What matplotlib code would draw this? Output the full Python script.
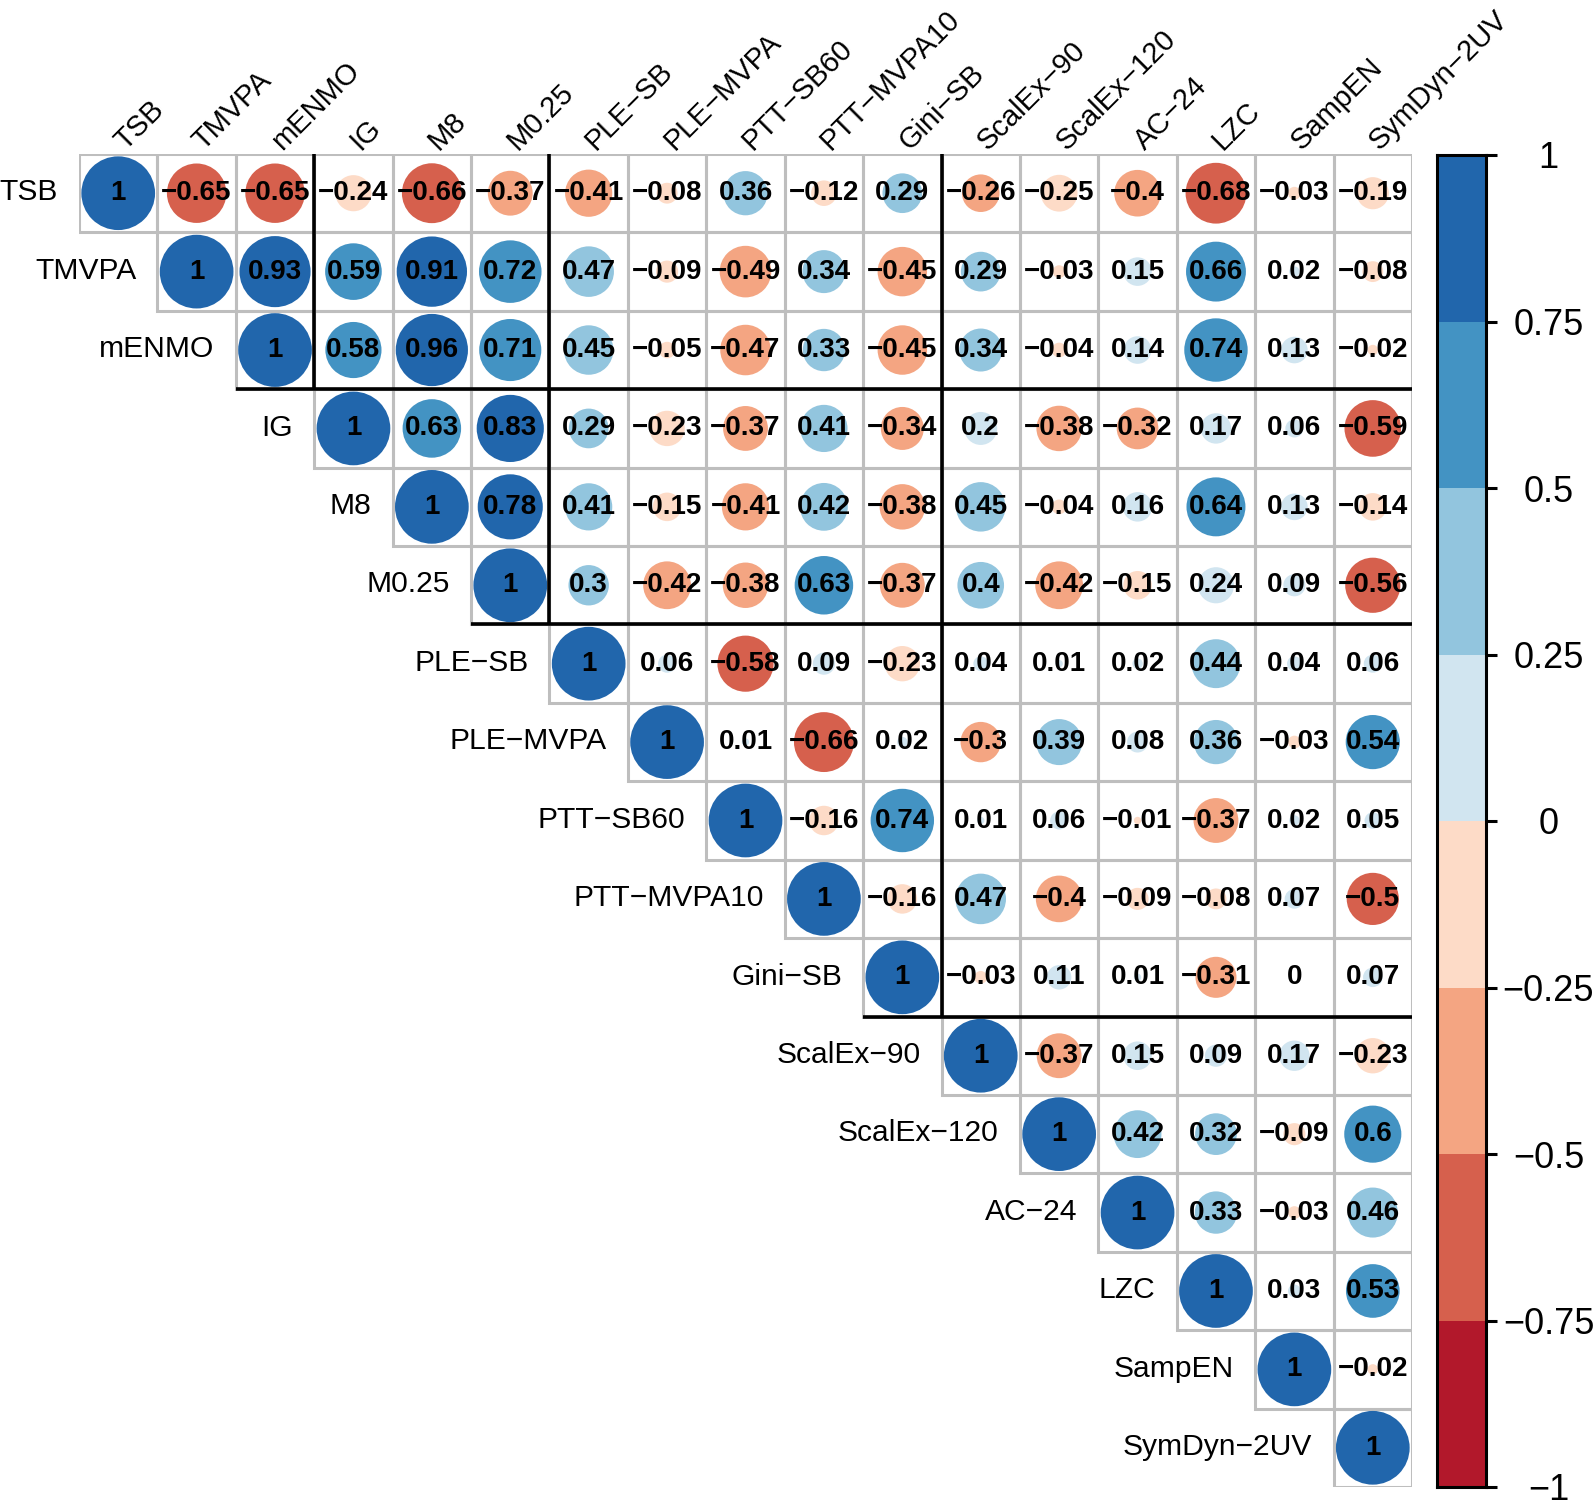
import numpy as np
import matplotlib
matplotlib.use('Agg')
import matplotlib.pyplot as plt
from matplotlib.patches import Circle, Rectangle

plt.rcParams['font.family'] = ['Liberation Sans', 'DejaVu Sans']

# ── Datos: matriz de correlación (triángulo superior, fila a fila) ──────────
labels = ['TSB', 'TMVPA', 'mENMO', 'IG', 'M8', 'M0.25', 'PLE-SB', 'PLE-MVPA',
          'PTT-SB60', 'PTT-MVPA10', 'Gini-SB', 'ScalEx-90', 'ScalEx-120',
          'AC-24', 'LZC', 'SampEN', 'SymDyn-2UV']

upper_rows = [
    [1, -0.65, -0.65, -0.24, -0.66, -0.37, -0.41, -0.08, 0.36, -0.12, 0.29, -0.26, -0.249, -0.4, -0.68, -0.03, -0.19],
    [1, 0.93, 0.59, 0.91, 0.72, 0.47, -0.09, -0.49, 0.34, -0.45, 0.29, -0.03, 0.15, 0.66, 0.02, -0.08],
    [1, 0.58, 0.96, 0.71, 0.45, -0.05, -0.47, 0.33, -0.45, 0.34, -0.04, 0.14, 0.74, 0.13, -0.02],
    [1, 0.63, 0.83, 0.29, -0.23, -0.37, 0.41, -0.34, 0.2, -0.38, -0.32, 0.17, 0.06, -0.59],
    [1, 0.78, 0.41, -0.15, -0.41, 0.42, -0.38, 0.45, -0.04, 0.16, 0.64, 0.13, -0.14],
    [1, 0.3, -0.42, -0.38, 0.63, -0.37, 0.4, -0.42, -0.15, 0.24, 0.09, -0.56],
    [1, 0.06, -0.58, 0.09, -0.23, 0.04, 0.01, 0.02, 0.44, 0.04, 0.06],
    [1, 0.01, -0.66, 0.02, -0.3, 0.39, 0.08, 0.36, -0.03, 0.54],
    [1, -0.16, 0.74, 0.01, 0.06, -0.01, -0.37, 0.02, 0.05],
    [1, -0.16, 0.47, -0.4, -0.09, -0.08, 0.07, -0.501],
    [1, -0.03, 0.11, 0.01, -0.31, 0, 0.07],
    [1, -0.37, 0.15, 0.09, 0.17, -0.23],
    [1, 0.42, 0.32, -0.09, 0.6],
    [1, 0.33, -0.03, 0.46],
    [1, 0.03, 0.53],
    [1, -0.02],
    [1],
]

group_sizes = [3, 3, 5, 6]
palette = ['#B2182B', '#D6604D', '#F4A582', '#FDDBC7',
           '#D1E5F0', '#92C5DE', '#4393C3', '#2166AC']
cbar_ticks = [1, 0.75, 0.5, 0.25, 0, -0.25, -0.5, -0.75, -1]

n = len(labels)
corr = np.full((n, n), np.nan)
for i, row in enumerate(upper_rows):
    corr[i, i:] = row


def fmt(v):
    s = f'{round(v, 2):g}'
    return s.replace('-', '\u2212')


def colour(v):
    k = int(np.ceil((v + 1) * len(palette) / 2)) - 1
    return palette[min(max(k, 0), len(palette) - 1)]


# ── Figura ──────────────────────────────────────────────────────────────────
W, H = 1594, 1501
fig = plt.figure(figsize=(W / 100, H / 100), dpi=100)
ax = fig.add_axes([79 / W, (H - 1487) / H, 1333 / W, 1333 / H])
ax.set_xlim(-0.5, n - 0.5)
ax.set_ylim(n - 0.5, -0.5)
ax.axis('off')

for i in range(n):
    for j in range(i, n):
        v = corr[i, j]
        ax.add_patch(Rectangle((j - 0.5, i - 0.5), 1, 1, fill=False,
                               ec='#BEBEBE', lw=2.2, zorder=1))
        ax.add_patch(Circle((j, i), 0.47 * np.sqrt(abs(v)), fc=colour(v),
                            ec='none', zorder=2))
        ax.text(j, i, fmt(v), ha='center', va='center', fontsize=20,
                fontweight='bold', color='black', zorder=3)

# etiquetas de fila y columna
for i, lab in enumerate(labels):
    ax.text(i - 0.5 - 0.27, i - 0.01, lab.replace('-', '\u2212'),
            ha='right', va='center', fontsize=21.6, clip_on=False)
    ax.text(i + 0.09, -0.5 - 0.04, lab.replace('-', '\u2212'), rotation=45,
            rotation_mode='anchor', ha='left', va='baseline', fontsize=21,
            clip_on=False)

# rectángulos de grupos
b = 0
for g in group_sizes[:-1]:
    b += g
    ax.plot([b - 0.5, b - 0.5], [-0.5, b - 0.5], color='black', lw=2.6,
            zorder=4, solid_capstyle='butt')
    ax.plot([b - 1.5, n - 0.5], [b - 0.5, b - 0.5], color='black', lw=2.6,
            zorder=4, solid_capstyle='butt')

# ── Barra de color ──────────────────────────────────────────────────────────
cax = fig.add_axes([1437 / W, (H - 1487) / H, 49 / W, 1332 / H])
edges = np.linspace(-1, 1, len(palette) + 1)
cax.bar(0, np.diff(edges), bottom=edges[:-1], width=1, color=palette)
cax.set_xlim(-0.5, 0.5)
cax.set_ylim(-1, 1)
cax.set_xticks([])
cax.yaxis.tick_right()
cax.set_yticks(cbar_ticks)
cax.set_yticklabels([fmt(t) for t in cbar_ticks], fontsize=26, ha='center')
cax.tick_params(axis='y', length=8, width=2.2, pad=37)
for sp in cax.spines.values():
    sp.set_linewidth(2.2)

plt.savefig('out.png', dpi=100)
